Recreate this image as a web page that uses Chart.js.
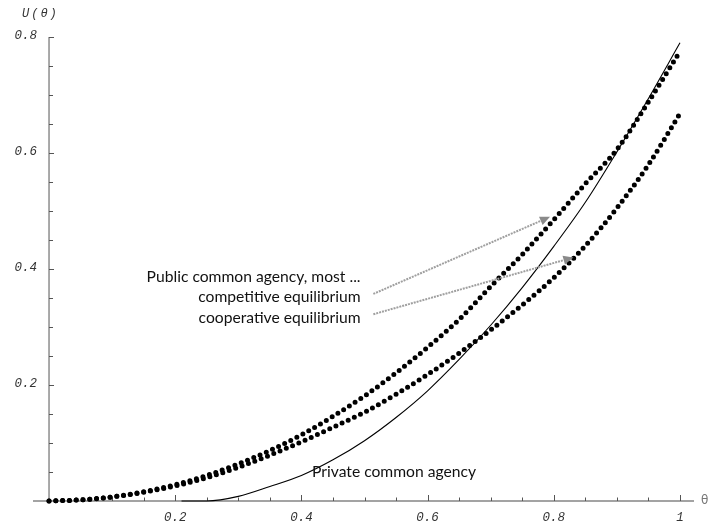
<!DOCTYPE html>
<html><head><meta charset="utf-8">
<script src="https://cdn.jsdelivr.net/npm/chart.js@4.4.1/dist/chart.umd.min.js"></script>
<style>html,body{margin:0;padding:0;background:#fff;overflow:hidden}canvas{display:block}</style>
</head><body>
<canvas id="c" width="717" height="531"></canvas>
<script>
// ---- data ----
const theta = [0,0.05,0.1,0.15,0.2,0.25,0.3,0.35,0.4,0.45,0.5,0.55,0.6,0.65,0.7,0.75,0.8,0.85,0.9,0.95,1.0];
const competitive = [0,0.002,0.007,0.016,0.028,0.044,0.064,0.087,0.114,0.146,0.181,0.221,0.265,0.313,0.370,0.425,0.485,0.547,0.606,0.688,0.775];
const cooperative = [0,0.002,0.007,0.015,0.026,0.040,0.058,0.079,0.102,0.127,0.153,0.184,0.218,0.255,0.295,0.338,0.385,0.440,0.505,0.580,0.668];
const privateTheta = [0.21,0.25,0.3,0.35,0.4,0.45,0.5,0.55,0.6,0.65,0.7,0.75,0.8,0.85,0.9,0.95,1.0];
const privateU = [0,0,0.008,0.025,0.044,0.071,0.104,0.144,0.190,0.244,0.303,0.368,0.439,0.515,0.602,0.694,0.790];
const xMajorTicks = [0.2,0.4,0.6,0.8,1];
const xMajorLabels = ['0.2','0.4','0.6','0.8','1'];
const xMinorTicks = [0.05,0.1,0.15,0.25,0.3,0.35,0.45,0.5,0.55,0.65,0.7,0.75,0.85,0.9,0.95];
const yMajorTicks = [0.2,0.4,0.6,0.8];
const yMajorLabels = ['0.2','0.4','0.6','0.8'];
const yMinorTicks = [0.05,0.1,0.15,0.25,0.3,0.35,0.45,0.5,0.55,0.65,0.7,0.75];
const xAxisTitle = 'θ';
const yAxisTitle = 'U(θ)';
const labelLines = ['Public common agency, most ...','competitive equilibrium','cooperative equilibrium'];
const privateLabel = 'Private common agency';

// annotation anchors, in data units
const labelAnchor = {x:0.4937, y:[0.386,0.352,0.316]};
const privateAnchor = {x:0.4168, y:0.0505};
const arrows = [
  {from:{x:0.514,y:0.357}, to:{x:0.794,y:0.490}},
  {from:{x:0.514,y:0.322}, to:{x:0.831,y:0.420}}
];

const toPts = (xs, ys) => xs.map((x,i)=>({x, y:ys[i]}));

const axesPlugin = {
  id:'mmaAxes',
  beforeDatasetsDraw(chart){
    const {ctx, chartArea:a, scales:{x,y}} = chart;
    const x0 = x.getPixelForValue(0), y0 = y.getPixelForValue(0);
    ctx.save();
    ctx.strokeStyle = '#858585';
    ctx.lineWidth = 1.4;
    ctx.beginPath();
    ctx.moveTo(a.left, y0); ctx.lineTo(a.right, y0);
    ctx.moveTo(x0, y0); ctx.lineTo(x0, y.getPixelForValue(0.8));
    ctx.stroke();
    ctx.lineWidth = 1;
    ctx.strokeStyle = '#555';
    ctx.beginPath();
    xMajorTicks.forEach(v=>{const p=Math.round(x.getPixelForValue(v))+0.5; ctx.moveTo(p,y0); ctx.lineTo(p,y0-6);});
    xMinorTicks.forEach(v=>{const p=Math.round(x.getPixelForValue(v))+0.5; ctx.moveTo(p,y0); ctx.lineTo(p,y0-3.5);});
    yMajorTicks.forEach(v=>{const p=Math.round(y.getPixelForValue(v))+0.5; ctx.moveTo(x0,p); ctx.lineTo(x0+5,p);});
    yMinorTicks.forEach(v=>{const p=Math.round(y.getPixelForValue(v))+0.5; ctx.moveTo(x0,p); ctx.lineTo(x0+4,p);});
    ctx.stroke();
    ctx.fillStyle = '#333';
    ctx.font = 'italic 12.5px "Liberation Mono"';
    ctx.textAlign = 'center'; ctx.textBaseline = 'middle';
    xMajorTicks.forEach((v,i)=>ctx.fillText(xMajorLabels[i], x.getPixelForValue(v), y0+17));
    ctx.textAlign = 'right';
    yMajorTicks.forEach((v,i)=>ctx.fillText(yMajorLabels[i], x0-12, y.getPixelForValue(v)-1));
    ctx.textAlign = 'left';
    ctx.font = 'italic 12px "Liberation Mono"';
    if ('letterSpacing' in ctx) ctx.letterSpacing = '2px';
    ctx.fillText(yAxisTitle, 22, 14);
    if ('letterSpacing' in ctx) ctx.letterSpacing = '0px';
    ctx.fillStyle = '#777';
    ctx.font = '12px "DejaVu Sans"';
    ctx.fillText(xAxisTitle, 701, y0);
    ctx.restore();
  },
  afterDatasetsDraw(chart){
    const {ctx, scales:{x,y}} = chart;
    ctx.save();
    // arrows
    arrows.forEach(ar=>{
      const x1=x.getPixelForValue(ar.from.x), y1=y.getPixelForValue(ar.from.y);
      const x2=x.getPixelForValue(ar.to.x), y2=y.getPixelForValue(ar.to.y);
      const ang=Math.atan2(y2-y1,x2-x1), L=10, W=4.5;
      const bx=x2-L*Math.cos(ang), by=y2-L*Math.sin(ang);
      ctx.strokeStyle='#a0a0a0'; ctx.lineWidth=2; ctx.setLineDash([2,1]);
      ctx.beginPath(); ctx.moveTo(x1,y1); ctx.lineTo(bx,by); ctx.stroke();
      ctx.setLineDash([]);
      ctx.fillStyle='#8a8a8a';
      ctx.beginPath();
      ctx.moveTo(x2,y2);
      ctx.lineTo(bx+W*Math.sin(ang), by-W*Math.cos(ang));
      ctx.lineTo(bx-W*Math.sin(ang), by+W*Math.cos(ang));
      ctx.closePath(); ctx.fill();
    });
    // labels
    ctx.fillStyle='#111';
    ctx.font='15px Lato';
    const w = ctx.measureText(labelLines[0]).width;
    const fs = 15*214/w;
    ctx.font = fs.toFixed(2)+'px Lato';
    ctx.textAlign='right'; ctx.textBaseline='middle';
    labelLines.forEach((t,i)=>ctx.fillText(t, x.getPixelForValue(labelAnchor.x), y.getPixelForValue(labelAnchor.y[i])));
    ctx.textAlign='left';
    ctx.fillText(privateLabel, x.getPixelForValue(privateAnchor.x), y.getPixelForValue(privateAnchor.y));
    ctx.restore();
  }
};

const dotted = {borderColor:'#000', borderWidth:5, borderDash:[0,6.8], borderCapStyle:'round',
  pointRadius:0, showLine:true, cubicInterpolationMode:'monotone', clip:false, fill:false};

new Chart(document.getElementById('c'), {
  type:'scatter',
  data:{datasets:[
    Object.assign({label:'competitive equilibrium', data:toPts(theta, competitive)}, dotted),
    Object.assign({label:'cooperative equilibrium', data:toPts(theta, cooperative)}, dotted),
    {label:'Private common agency', data:toPts(privateTheta, privateU), borderColor:'#000', borderWidth:1.1,
     pointRadius:0, showLine:true, cubicInterpolationMode:'monotone', clip:false, fill:false}
  ]},
  options:{
    responsive:false, animation:false, devicePixelRatio:1,
    layout:{padding:{left:33, right:23, top:37, bottom:30}},
    scales:{
      x:{type:'linear', min:-0.0254, max:1.0222, display:false},
      y:{type:'linear', min:0, max:0.8, display:false}
    },
    plugins:{legend:{display:false}, tooltip:{enabled:false}}
  },
  plugins:[axesPlugin]
});
</script>
</body></html>
